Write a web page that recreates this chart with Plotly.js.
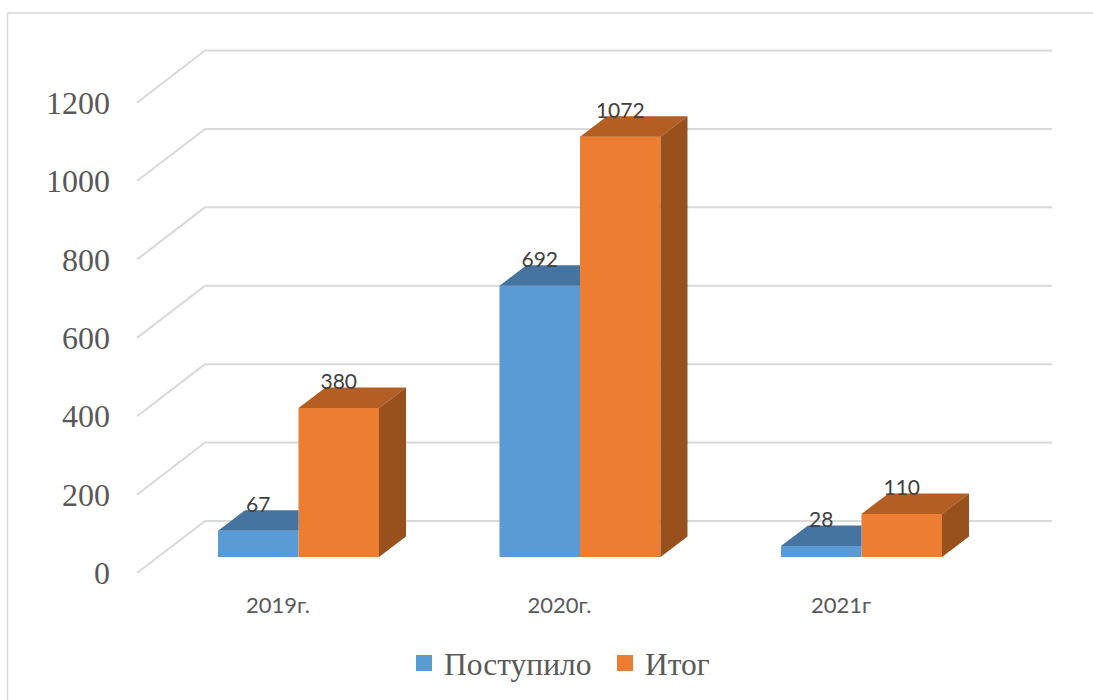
<!DOCTYPE html>
<html><head><meta charset="utf-8">
<script src="https://cdn.plot.ly/plotly-3.0.1.min.js"></script>
<style>html,body{margin:0;padding:0;background:#fff;overflow:hidden}</style>
</head><body><div id="chart" style="width:1093px;height:700px"></div>
<script>
const categories = ['2019г.', '2020г.', '2021г'];
const categoryPos = [1, 2, 3];
const received = [67, 692, 28];
const total = [380, 1072, 110];
const yTicks = [0, 200, 400, 600, 800, 1000, 1200];

const W = 1093, H = 700, MT = 13, MB = 110;
const pxPerCat = 281.5, pxPerUnit = 0.392;
const xRange = [1 - 298.5 / pxPerCat, 1 + (W - 298.5) / pxPerCat];
const yRange = [-(H - MB - 557) / pxPerUnit, (557 - MT) / pxPerUnit];
const barW = 80.5 / pxPerCat;
const depthX = 27 / pxPerCat, depthY = 20.5 / pxPerUnit;
const labelLift = 24 / pxPerUnit, tickShift = 20.5 / pxPerCat;
const tickAxisShift = 16 / pxPerUnit;
const wallBackY = 92, wallFrontY = -41;
const wallL = 1 + (137 - 298.5) / pxPerCat, wallC = 1 + (205 - 298.5) / pxPerCat, wallR = 1 + (1052 - 298.5) / pxPerCat;

const BLUE = '#5B9BD5', ORANGE = '#ED7D31', BLUE_TOP = '#44749F', ORANGE_TOP = '#B45E23', ORANGE_SIDE = '#98501C';

function poly(list) {
  const xs = [], ys = [];
  list.forEach(p => { p.forEach(q => { xs.push(q[0]); ys.push(q[1]); }); xs.push(null); ys.push(null); });
  return { x: xs, y: ys };
}
const face = (pts, color) => Object.assign({
  type: 'scatter', mode: 'lines', fill: 'toself', fillcolor: color,
  line: { width: 0, color: color }, hoverinfo: 'skip', showlegend: false
}, poly(pts));

const topBlue = categoryPos.map((c, i) => {
  const l = c - barW, r = c, v = received[i];
  return [[l, v], [l + depthX, v + depthY], [r, v + depthY], [r, v]];
});
const topOrange = categoryPos.map((c, i) => {
  const l = c, r = c + barW, v = total[i];
  return [[l, v], [l + depthX, v + depthY], [r + depthX, v + depthY], [r, v]];
});
const sideOrange = categoryPos.map((c, i) => {
  const r = c + barW, v = total[i];
  return [[r, 0], [r + depthX, depthY], [r + depthX, v + depthY], [r, v]];
});

const traces = [
  { type: 'bar', name: 'Поступило', x: categoryPos, y: received, marker: { color: BLUE }, showlegend: false, hoverinfo: 'y' },
  { type: 'bar', name: 'Итог', x: categoryPos, y: total, marker: { color: ORANGE }, showlegend: false, hoverinfo: 'y' },
  face(topBlue, BLUE_TOP), face(topOrange, ORANGE_TOP), face(sideOrange, ORANGE_SIDE),
  { type: 'scatter', mode: 'text', x: categoryPos.map(c => c - barW / 2), y: received.map(v => v + labelLift),
    text: received.map(String), textposition: 'middle center', textfont: { family: 'Lato', size: 21, color: '#404040' },
    hoverinfo: 'skip', showlegend: false },
  { type: 'scatter', mode: 'text', x: categoryPos.map(c => c + barW / 2), y: total.map(v => v + labelLift),
    text: total.map(String), textposition: 'middle center', textfont: { family: 'Lato', size: 21, color: '#404040' },
    hoverinfo: 'skip', showlegend: false },
  { type: 'scatter', mode: 'markers', name: 'Поступило', x: [null], y: [null], marker: { symbol: 'square', size: 16, color: BLUE }, showlegend: true },
  { type: 'scatter', mode: 'markers', name: 'Итог', x: [null], y: [null], marker: { symbol: 'square', size: 16, color: ORANGE }, showlegend: true },
  { type: 'scatter', mode: 'none', x: yTicks.map(() => null), y: yTicks, yaxis: 'y2', hoverinfo: 'skip', showlegend: false }
];

const gridStyle = { color: '#D9D9D9', width: 2 };
const shapes = [];
yTicks.forEach(v => {
  shapes.push({ type: 'line', layer: 'below', xref: 'x', yref: 'y', x0: wallL, y0: v + wallFrontY, x1: wallC, y1: v + wallBackY, line: gridStyle });
  shapes.push({ type: 'line', layer: 'below', xref: 'x', yref: 'y', x0: wallC, y0: v + wallBackY, x1: wallR, y1: v + wallBackY, line: gridStyle });
});
const frameX = 7.5 / W, plotH = H - MT - MB;
shapes.push({ type: 'line', layer: 'below', xref: 'paper', yref: 'paper', x0: frameX, y0: -MB / plotH, x1: frameX, y1: 1, line: { color: '#D9D9D9', width: 1.5 } });
shapes.push({ type: 'line', layer: 'below', xref: 'paper', yref: 'paper', x0: frameX, y0: 1, x1: 1, y1: 1, line: { color: '#D9D9D9', width: 1.5 } });

const layout = {
  width: W, height: H, margin: { l: 0, r: 0, t: MT, b: MB, pad: 0 },
  paper_bgcolor: '#fff', plot_bgcolor: 'rgba(0,0,0,0)',
  barmode: 'group', bargap: 1 - 2 * barW, bargroupgap: 0,
  xaxis: { range: xRange, tickmode: 'array', tickvals: categoryPos.map(c => c - tickShift), ticktext: categories,
    showgrid: false, zeroline: false, showline: false, ticks: '', tickfont: { family: 'Lato', size: 22, color: '#595959' } },
  yaxis: { range: yRange, showgrid: false, zeroline: false, showline: false, showticklabels: false, ticks: '' },
  yaxis2: { overlaying: 'y', anchor: 'free', side: 'left', position: 110 / W,
    range: [yRange[0] + tickAxisShift, yRange[1] + tickAxisShift], tickmode: 'array', tickvals: yTicks, ticktext: yTicks.map(String),
    showgrid: false, zeroline: false, showline: false, ticks: '', tickfont: { family: 'Liberation Serif', size: 32, color: '#595959' } },
  shapes,
  showlegend: true,
  legend: { orientation: 'h', x: 404 / W, xanchor: 'left', y: (590 - 663) / plotH, yanchor: 'middle', entrywidth: 156, entrywidthmode: 'pixels',
    font: { family: 'Liberation Serif', size: 31.5, color: '#595959' }, bgcolor: 'rgba(0,0,0,0)', traceorder: 'normal', itemclick: false, itemdoubleclick: false }
};
Plotly.newPlot('chart', traces, layout, { displayModeBar: false, staticPlot: true });
</script></body></html>
